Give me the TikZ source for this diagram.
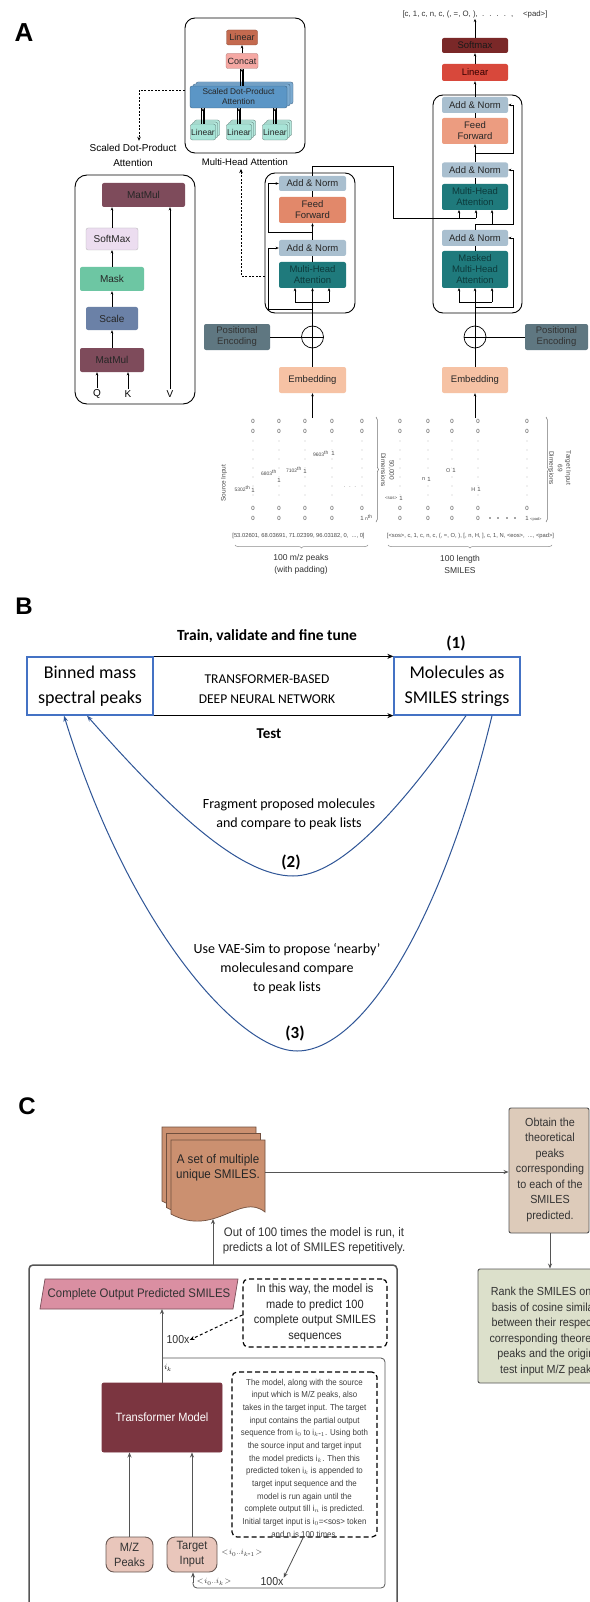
\documentclass[tikz,border=0pt]{standalone}
\usepackage{fontspec}
\setmainfont{Liberation Sans}
\newfontfamily\calib{Carlito}
\newfontfamily\cnd[FakeStretch=0.92]{Liberation Sans}
\usetikzlibrary{arrows.meta,decorations.pathreplacing,calc}
\newcommand\fs[2]{\fontsize{#1}{#2}\selectfont}
\definecolor{teal1}{HTML}{1F7A7C}
\definecolor{mhtext}{HTML}{0C3A3B}
\definecolor{addn}{HTML}{A9BFCF}
\definecolor{ffenc}{HTML}{E2886A}
\definecolor{ffdec}{HTML}{EC9C80}
\definecolor{emb}{HTML}{F6C2A4}
\definecolor{pe}{HTML}{5F7781}
\definecolor{linred}{HTML}{D8483B}
\definecolor{smax}{HTML}{7A2828}
\definecolor{lintop}{HTML}{C46A4F}
\definecolor{concat}{HTML}{F5A8A3}
\definecolor{sdpa}{HTML}{5B96C6}
\definecolor{linsm}{HTML}{A8E4D7}
\definecolor{matmul}{HTML}{7E4B5B}
\definecolor{softm}{HTML}{ECDDF0}
\definecolor{mask}{HTML}{6DC6A3}
\definecolor{scale}{HTML}{6B81A7}
\definecolor{bblue}{HTML}{4472C4}
\definecolor{cblue}{HTML}{2F5597}
\definecolor{doc}{HTML}{CB9070}
\definecolor{obt}{HTML}{DDCBBA}
\definecolor{rank}{HTML}{DCE0CB}
\definecolor{pinkp}{HTML}{DA8FA2}
\definecolor{trans}{HTML}{7B3540}
\definecolor{pill}{HTML}{E9C6BB}
\definecolor{cline}{HTML}{555555}
\definecolor{mtx}{HTML}{4A4A4A}
\tikzset{
 abox/.style={rounded corners=2pt,inner sep=0pt,align=center,font=\fs{9.5}{11},text=black!85},
 cont/.style={draw,rounded corners=10pt,line width=0.9pt,inner sep=0pt},
 arr/.style={-{Stealth[length=3.2pt,width=2.6pt]},line width=0.6pt},
 ln/.style={line width=0.6pt},
 dsh/.style={dash pattern=on 2pt off 1.5pt,line width=0.8pt},
 mt/.style={font=\fs{6}{7},text=mtx,inner sep=0pt},
 bbox/.style={draw=bblue,line width=1.3pt,minimum width=126,minimum height=58,inner sep=0pt,align=center,font=\calib\fs{18}{25}},
 btxt/.style={font=\calib\fs{14}{19},align=center,inner sep=0pt},
 barr/.style={-{Stealth[length=6pt,width=5pt]},line width=0.9pt},
 bcur/.style={draw=cblue,line width=1pt},
 ctxt/.style={font=\cnd\fs{12.4}{15},align=center,inner sep=0pt,text=black!80},
 carr/.style={-{Stealth[length=5pt,width=4pt]},draw=cline,line width=0.8pt},
 cbox/.style={draw=cline,line width=0.9pt,rounded corners=2pt,inner sep=0pt},
 dbox/.style={draw=black,line width=1.2pt,dash pattern=on 5pt off 3pt,rounded corners=5pt,inner sep=0pt,align=center},
}
\begin{document}
\begin{tikzpicture}[x=1pt,y=-1pt]
\useasboundingbox (0,0) rectangle (589,1602);
\fill[white] (0,0) rectangle (589,1602);
% ================= PANEL A =================
\node[font=\bfseries\fs{26}{26}] (labA) at (24,33) {A};
% Multi-head attention detail
\node[cont,minimum width=120,minimum height=135] (mhad) at (245,85.5) {};
\node[font=\fs{9.5}{11}] (mhalab) at (245,162) {Multi-Head Attention};
\node[abox,fill=lintop,draw=lintop!70!black,line width=0.3pt,minimum width=31,minimum height=15,font=\fs{9}{10}] (mlin) at (242,37.5) {Linear};
\node[abox,fill=concat,draw=concat!70!black,line width=0.3pt,minimum width=32,minimum height=15,font=\fs{9}{10}] (mcat) at (242,61) {Concat};
\foreach \d in {2,1}{\node[abox,fill=sdpa!80,draw=sdpa!60!black,line width=0.3pt,minimum width=97,minimum height=22] (sds\d) at (238.5+3*\d,97-2*\d) {};}
\node[abox,fill=sdpa,draw=sdpa!60!black,line width=0.3pt,minimum width=97,minimum height=22,font=\fs{8.3}{10}] (msd) at (238.5,97) {Scaled Dot-Product\\Attention};
\foreach \x/\n in {203/1,239/2,275/3}{
 \foreach \d in {2,1}{\node[abox,fill=linsm!85,draw=linsm!50!black,line width=0.3pt,minimum width=25,minimum height=16] (ls\n\d) at (\x+2*\d,132-2*\d) {};}
 \node[abox,fill=linsm,draw=linsm!50!black,line width=0.3pt,minimum width=25,minimum height=16,font=\fs{8.5}{9}] (ml\n) at (\x,132) {Linear};
 \draw[arr] (ml\n.north) -- (ml\n.north |- msd.south);
 \draw[ln,line width=0.4pt] ($(ml\n.north)+(-1.6,0)$) -- ($(ml\n.north |- msd.south)+(-1.6,0)$);
 \draw[ln,line width=0.4pt] ($(ml\n.north)+(1.6,0)$) -- ($(ml\n.north |- msd.south)+(1.6,0)$);
}
\draw[arr] (msd.north -| mcat.south) -- (mcat.south);
\draw[ln,line width=0.4pt] ($(msd.north -| mcat.south)+(-1.6,0)$) -- ($(mcat.south)+(-1.6,0)$);
\draw[ln,line width=0.4pt] ($(msd.north -| mcat.south)+(1.6,0)$) -- ($(mcat.south)+(1.6,0)$);
\draw[arr] (mcat.north) -- (mlin.south);
% scaled dot product attention detail
\node[font=\fs{10}{15},align=center] (sdlab) at (133,155.5) {Scaled Dot-Product\\Attention};
\coordinate (dA) at (139,90);
\draw[dsh,-{Stealth[length=4pt,width=3.5pt]}] (mhad.west |- dA) -- (dA) -- (dA |- sdlab.north);
\node[cont,rounded corners=12pt,minimum width=120,minimum height=229] (sdbox) at (135,289.5) {};
\node[abox,fill=matmul,minimum width=83,minimum height=24,font=\fs{10}{11}] (mm1) at (143.5,195) {MatMul};
\node[abox,fill=softm,draw=black!30,line width=0.3pt,minimum width=52,minimum height=22,font=\fs{10}{11}] (sm) at (112,239) {SoftMax};
\node[abox,fill=mask,minimum width=64,minimum height=24,font=\fs{10}{11}] (mk) at (112,279) {Mask};
\node[abox,fill=scale,minimum width=52,minimum height=23,font=\fs{10}{11}] (sc) at (112,318.5) {Scale};
\node[abox,fill=matmul,minimum width=64,minimum height=24,font=\fs{10}{11}] (mm2) at (112,360) {MatMul};
\node[font=\fs{10}{11},inner sep=0pt] (qq) at (97,394) {Q};
\node[font=\fs{10}{11},inner sep=0pt] (kk) at (128,394) {K};
\node[font=\fs{10}{11},inner sep=0pt] (vv) at (170,394) {V};
\draw[arr] (mm2.north) -- (sc.south);
\draw[arr] (sc.north) -- (mk.south);
\draw[arr] (mk.north) -- (sm.south);
\draw[arr] (sm.north) -- (sm.north |- mm1.south);
\draw[arr] ($(qq.north)+(0,-1)$) -- (qq.north |- mm2.south);
\draw[arr] ($(kk.north)+(0,-1)$) -- (kk.north |- mm2.south);
\draw[arr] ($(vv.north)+(0,-1)$) -- (vv.north |- mm1.south);
% encoder
\node[cont,minimum width=90,minimum height=140] (enc) at (310,243) {};
\node[abox,fill=addn,minimum width=67,minimum height=15] (an1) at (312.5,183.5) {Add \& Norm};
\node[abox,fill=ffenc,minimum width=67,minimum height=26] (ff1) at (312.5,210) {Feed\\Forward};
\node[abox,fill=addn,minimum width=67,minimum height=16] (an2) at (312.5,248) {Add \& Norm};
\node[abox,fill=teal1,text=mhtext,minimum width=67,minimum height=26] (mh1) at (312.5,275) {Multi-Head\\Attention};
\coordinate (dB) at (241,276);
\draw[dsh,-{Stealth[length=4pt,width=3.5pt]}] (enc.west |- dB) -- (dB) -- (dB |- mhalab.south);
% decoder
\node[cont,minimum width=89,minimum height=218] (dec) at (477.5,204) {};
\node[abox,fill=addn,minimum width=66,minimum height=16] (dn1) at (475,105) {Add \& Norm};
\node[abox,fill=ffdec,minimum width=66,minimum height=26] (dff) at (475,131) {Feed\\Forward};
\node[abox,fill=addn,minimum width=66,minimum height=15] (dn2) at (475,170) {Add \& Norm};
\node[abox,fill=teal1,text=mhtext,minimum width=66,minimum height=26] (dmh) at (475,197) {Multi-Head\\Attention};
\node[abox,fill=addn,minimum width=66,minimum height=16] (dn3) at (475,238) {Add \& Norm};
\node[abox,fill=teal1,text=mhtext,minimum width=66,minimum height=37] (dmm) at (475,269.5) {Masked\\Multi-Head\\Attention};
\node[abox,fill=linred,text=black!80!red,minimum width=66,minimum height=17] (dlin) at (475,72.5) {Linear};
\node[abox,fill=smax,text=black!90,minimum width=66,minimum height=15] (dsm) at (475,45.5) {Softmax};
\node[font=\fs{7.8}{9},text=black!80,inner sep=1pt] (outt) at (475,14) {[c, 1, c, n, c, (, =, O, ), \ . \ . \ . \ . \ , \quad <pad>]};
\draw[arr] (dsm.north) -- (outt.south);
\draw[arr] (dlin.north) -- (dsm.south);
\draw[arr] (dn1.north) -- (dlin.south);
\draw[ln] (dff.north) -- (dn1.south);
\draw[arr] (dn2.north) -- (dff.south);
\draw[ln] (dmh.north) -- (dn2.south);
\draw[ln] (dmm.north) -- (dn3.south);
% positional encodings, embeddings
\node[draw,circle,minimum size=22,inner sep=0pt,line width=0.7pt] (cp1) at (312.5,337) {};
\node[draw,circle,minimum size=22,inner sep=0pt,line width=0.7pt] (cp2) at (475,337) {};
\draw[ln] (cp1.north) -- (cp1.south) (cp1.west) -- (cp1.east);
\draw[ln] (cp2.north) -- (cp2.south) (cp2.west) -- (cp2.east);
\node[abox,fill=pe,text=black!80,minimum width=66,minimum height=26] (pe1) at (237,337) {Positional\\Encoding};
\node[abox,fill=pe,text=black!80,minimum width=63,minimum height=26] (pe2) at (556.5,337) {Positional\\Encoding};
\node[abox,fill=emb,minimum width=67,minimum height=26] (emb1) at (312.5,380) {Embedding};
\node[abox,fill=emb,minimum width=66,minimum height=26] (emb2) at (475,380) {Embedding};
\draw[ln] (pe1.east) -- (cp1.west);
\draw[ln] (pe2.west) -- (cp2.east);
\draw[ln] (emb1.north) -- (cp1.south);
\draw[ln] (emb2.north) -- (cp2.south);
% encoder wiring
\coordinate (ej) at (312.5,302);
\draw[ln] (cp1.north) -- (ej);
\draw[ln] (295,302) -- (329,302);
\foreach \x in {295,312.5,329} \draw[arr] (\x,302) -- (\x,288);
\draw[arr] (312.5,309) -- (268,309) -- (268,248) -- (an2.west);
\draw[arr] (an2.north) -- (ff1.south);
\draw[ln] (mh1.north) -- (an2.south);
\draw[ln] (ff1.north) -- (an1.south);
\draw[arr] (312.5,232) -- (268,232) -- (268,183.5) -- (an1.west);
% encoder -> decoder
\draw[ln] (an1.north) -- (312.5,166) -- (393,166) -- (393,218) -- (476,218);
\draw[arr] (459,218) -- (459,210);
\draw[arr] (476,218) -- (476,210);
% decoder wiring
\coordinate (dj) at (475,302);
\draw[ln] (cp2.north) -- (dj);
\draw[ln] (459,302) -- (492,302);
\foreach \x in {459,475,492} \draw[arr] (\x,302) -- (\x,288);
\draw[arr] (475,307) -- (513,307) -- (513,238) -- (dn3.east);
\draw[ln] (dn3.north) -- (475,224) -- (492,224);
\draw[arr] (492,224) -- (492,210);
\draw[arr] (492,224) -- (513,224) -- (513,170) -- (dn2.east);
\draw[arr] (475,153) -- (513,153) -- (513,105) -- (dn1.east);
% ---------- matrices ----------
\draw[arr] (312.5,418) -- (emb1.south);
\draw[arr] (475,418) -- (emb2.south);
\foreach \x in {253,279,305,332,362,400,428,452,478,527}{
 \node[mt] (z1\x) at (\x,421) {0};
 \node[mt] (z2\x) at (\x,431) {0};
 \node[mt] (z3\x) at (\x,508) {0};
 \foreach \yy in {441,450,...,500}{\fill[mtx] (\x,\yy) circle (0.35);}
}
\foreach \x in {253,279,305,332,400,428,452,478}{\node[mt] (z4\x) at (\x,518) {0};}
% source entries
\node[mt,fill=white,inner sep=0.6pt] (s1) at (253,490) {1};
\node[mt,anchor=east,font=\fs{5}{6}] (s1l) at (250.5,489) {5302\textsuperscript{th}};
\node[mt,fill=white,inner sep=0.6pt] (s2) at (279,480) {1};
\node[mt,anchor=east,font=\fs{5}{6}] (s2l) at (277,473) {6803\textsuperscript{th}};
\node[mt,fill=white,inner sep=0.6pt] (s3) at (305,471) {1};
\node[mt,anchor=east,font=\fs{5}{6},fill=white,inner sep=0.5pt] (s3l) at (302.5,470) {7102\textsuperscript{th}};
\node[mt,fill=white,inner sep=0.6pt] (s4) at (333,453) {1};
\node[mt,anchor=east,font=\fs{5}{6},fill=white,inner sep=0.5pt] (s4l) at (329.5,454) {9603\textsuperscript{th}};
\node[mt] (sdots) at (350,487) {$\cdot\,\cdot\,\cdot$};
\node[mt] (s5) at (362,518) {1};
\node[mt,anchor=west,font=\fs{5}{6}] (s5l) at (365,518) {n\textsuperscript{th}};
% target entries
\node[mt,fill=white,inner sep=0.6pt] (t1) at (401,498) {1};
\node[mt,anchor=east,font=\fs{4.5}{5},fill=white,inner sep=0.5pt] (t1l) at (398,498.5) {<sos>};
\node[mt,fill=white,inner sep=0.6pt] (t2) at (429,479) {1};
\node[mt,anchor=east,font=\fs{5.5}{6},fill=white,inner sep=0.5pt] (t2l) at (426,479.5) {n};
\node[mt,fill=white,inner sep=0.6pt] (t3) at (454,470) {1};
\node[mt,anchor=east,font=\fs{5.5}{6},fill=white,inner sep=0.5pt] (t3l) at (451,470.5) {O};
\node[mt,fill=white,inner sep=0.6pt] (t4) at (479,489) {1};
\node[mt,anchor=east,font=\fs{5.5}{6},fill=white,inner sep=0.5pt] (t4l) at (476,490) {H};
\node[mt] (t5) at (527,518) {1};
\node[mt,anchor=west,font=\fs{4}{5}] (t5l) at (530,519) {<pad>};
\foreach \x in {490,498,507,515}{\fill[mtx] (\x,518) circle (0.8);}
% braces and labels
\draw[decorate,decoration={brace,amplitude=2.5pt},draw=black!55,line width=0.5pt] (376,417) -- (376,522);
\draw[decorate,decoration={brace,amplitude=2.5pt},draw=black!55,line width=0.5pt] (546,417) -- (546,522);
\node[mt,rotate=-90,align=center,font=\fs{6.5}{8.5}] (dim1) at (387.5,470) {50,000\\Dimensions};
\node[mt,rotate=-90,align=center,font=\fs{6.5}{8.5}] (dim2) at (560,468) {Target Input\\69\\Dimensions};
\node[mt,rotate=90,font=\fs{6.5}{8}] (srcin) at (224,483) {Source Input};
\node[mt,font=\fs{5.8}{7}] (srcstr) at (298.5,536) {[53.02601, 68.03691, 71.02399, 96.03182, 0, \ ..., 0]};
\node[mt,font=\fs{5.8}{7}] (tgtstr) at (470.5,536) {[<sos>, c, 1, c, n, c, (, =, O, ), [, n, H, ], c, 1, N, <eos>, \ ..., <pad>]};
\draw[decorate,decoration={brace,amplitude=3pt},draw=black!45,line width=0.5pt] (368,545) -- (235,545);
\draw[decorate,decoration={brace,amplitude=3pt},draw=black!45,line width=0.5pt] (552,545) -- (388,545);
\node[align=center,font=\fs{8.5}{12},text=black!80] (lab100a) at (301,564) {100 m/z peaks\\(with padding)};
\node[align=center,font=\fs{8.5}{12},text=black!80] (lab100b) at (460,564) {100 length\\SMILES};
% ================= PANEL B =================
\node[font=\bfseries\fs{24}{24}] (labB) at (24,606) {B};
\node[bbox] (bin) at (90,686) {Binned mass\\spectral peaks};
\node[bbox] (mol) at (457,686) {Molecules as\\SMILES strings};
\draw[barr] (bin.north east) -- (mol.north west);
\draw[barr] (bin.south east) -- (mol.south west);
\node[btxt,font=\calib\bfseries\fs{15.5}{16}] (train) at (267,636) {Train, validate and fine tune};
\node[btxt,font=\calib\bfseries\fs{17}{18}] (one) at (456,643) {(1)};
\node[btxt,font=\calib\fs{13.5}{20}] (tdnn) at (267,689) {TRANSFORMER-BASED\\DEEP NEURAL NETWORK};
\node[btxt,font=\calib\bfseries\fs{15}{16}] (test) at (269,734) {Test};
\coordinate (i2) at (293,876);
\coordinate (o3) at (297,1051);
\draw[bcur] ($(mol.south)+(9,0)$) .. controls (400,810) and (340,876) .. (i2);
\draw[bcur,-{Stealth[length=6pt,width=4.5pt,open]}] (i2) .. controls (240,876) and (170,810) .. ($(bin.south)+(-3,0)$);
\draw[bcur] ($(mol.south)+(35,0)$) .. controls (440,930) and (360,1051) .. (o3);
\draw[bcur,-{Stealth[length=6pt,width=4.5pt,open]}] (o3) .. controls (240,1051) and (130,930) .. ($(bin.south)+(-26,0)$);
\node[btxt] (frag) at (289,814.5) {Fragment proposed molecules\\and compare to peak lists};
\node[btxt,font=\calib\bfseries\fs{17}{18}] (two) at (291,862) {(2)};
\node[btxt] (vae) at (287,968.5) {Use VAE-Sim to propose ‘nearby’\\molecules\hspace{0.05em}and compare\\to peak lists};
\node[btxt,font=\calib\bfseries\fs{17}{18}] (three) at (295,1033) {(3)};
% ================= PANEL C =================
\node[font=\bfseries\fs{24}{24}] (labC) at (27,1106) {C};
\foreach \dx/\dy/\n in {-9/-13/1,-4.5/-6.5/2,0/0/3}{
 \draw[fill=doc,draw=doc!55!black,line width=0.7pt,shift={(\dx,\dy)}] (171,1140) -- (265,1140) -- (265,1212) .. controls (240,1192) and (215,1238) .. (171,1214) -- cycle;
}
\node[ctxt,font=\cnd\fs{12.6}{15},text=black!85] (docs) at (218,1167.5) {A set of multiple\\unique SMILES.};
\coordinate (docb) at (213,1219);
\node[cbox,fill=obt,minimum width=80,minimum height=125] (obtain) at (549,1170.5) {};
\node[ctxt,font=\cnd\fs{11.7}{15.5}] (obtt) at (550,1169.5) {Obtain the\\theoretical\\peaks\\corresponding\\to each of the\\SMILES\\predicted.};
\node[cbox,fill=rank,minimum width=144,minimum height=114] (rankb) at (550,1326) {};
\node[ctxt,font=\cnd\fs{11.7}{15.5}] (rankt) at (550,1331.5) {Rank the SMILES on the\\basis of cosine similarity\\between their respective\\corresponding theoretical\\peaks and the original\\test input M/Z peaks.};
\draw[carr] (265,1172) -- (obtain.west |- 265,1172);
\draw[carr] (obtain.south -| obtt.center) -- (rankb.north -| obtt.center);
\node[ctxt] (outof) at (314,1240.5) {Out of 100 times the model is run, it\\predicts a lot of SMILES repetitively.};
\draw[cline,line width=1.5pt,rounded corners=4pt] (29,1620) -- (29,1265) -- (397,1265) -- (397,1620);
\coordinate (boxtop) at (213,1265);
\draw[carr] (boxtop) -- (docb);
\draw[fill=pinkp,draw=pinkp!55!black,line width=0.7pt] (45,1279) -- (238,1279) -- (233,1309) -- (40,1309) -- cycle;
\node[ctxt,font=\cnd\fs{12.4}{14},text=black!80] (cops) at (139,1294) {Complete Output Predicted SMILES};
\node[dbox,font=\cnd\fs{12}{15.5},text=black!85,minimum width=144,minimum height=68] (way) at (315,1313) {In this way, the model is\\made to predict 100\\complete output SMILES\\sequences};
\node[cbox,fill=trans,draw=trans,text=white,font=\cnd\fs{12}{14},minimum width=120,minimum height=69] (tm) at (162,1417.5) {Transformer Model};
\node[cbox,fill=pill,draw=pill!45!black,rounded corners=8pt,align=center,font=\cnd\fs{12}{15},text=black!80,minimum width=47,minimum height=35] (mz) at (129.5,1554.5) {M/Z\\Peaks};
\node[cbox,fill=pill,draw=pill!45!black,rounded corners=8pt,align=center,font=\cnd\fs{12}{15},text=black!80,minimum width=50,minimum height=35] (tin) at (192,1554.5) {Target\\Input};
\draw[cline,line width=0.8pt,rounded corners=4pt] (162,1358) -- (385,1358) -- (385,1588) -- (193,1588) -- (193,1582);
\node[dbox,minimum width=145,minimum height=165] (expl) at (304.5,1454.5) {};
\node[ctxt,font=\cnd\fs{8.6}{12.67},text=black!75] (explt) at (304.5,1458) {The model, along with the source\\input which is M/Z peaks, also\\takes in the target input. The target\\input contains the partial output\\sequence from i$_0$ to i$_{k\mbox{-}1}$. Using both\\the source input and target input\\the model predicts i$_k$. Then this\\predicted token i$_k$ is appended to\\target input sequence and the\\model is run again until the\\complete output till i$_n$ is predicted.\\Initial target input is i$_0$=<sos> token\\and n is 100 times.};
\node[ctxt,font=\cnd\fs{11.5}{13}] (x100a) at (178,1340) {100x};
\node[ctxt,font=\cnd\fs{11.5}{13}] (x100b) at (272,1582) {100x};
\node[font=\fs{8}{9},inner sep=0pt] (ik) at (168,1368) {$i_k$};
\node[font=\fs{8}{9},inner sep=0pt,text=black!80] (ik1) at (242,1553) {$<\!i_0 .. i_{k\mbox{-}1}\!>$};
\node[font=\fs{8}{9},inner sep=0pt,text=black!80] (ik2) at (214,1582) {$<\!i_0 .. i_k\!>$};
\draw[carr] (tm.north) -- (tm.north |- 0,1309);
\draw[carr] (193,1583) -- (tin.south -| 193,0);
\draw[carr] (mz.north) -- (mz.north |- tm.south);
\draw[carr] (tin.north) -- (tin.north |- tm.south);
\draw[dash pattern=on 3pt off 2.5pt,line width=1pt,-{Stealth[length=5pt,width=4pt]}] (way.west |- 0,1315) -- (x100a.east);
\draw[carr,draw=black!70] (303,1538) -- (x100b.north east);
\end{tikzpicture}
\end{document}
